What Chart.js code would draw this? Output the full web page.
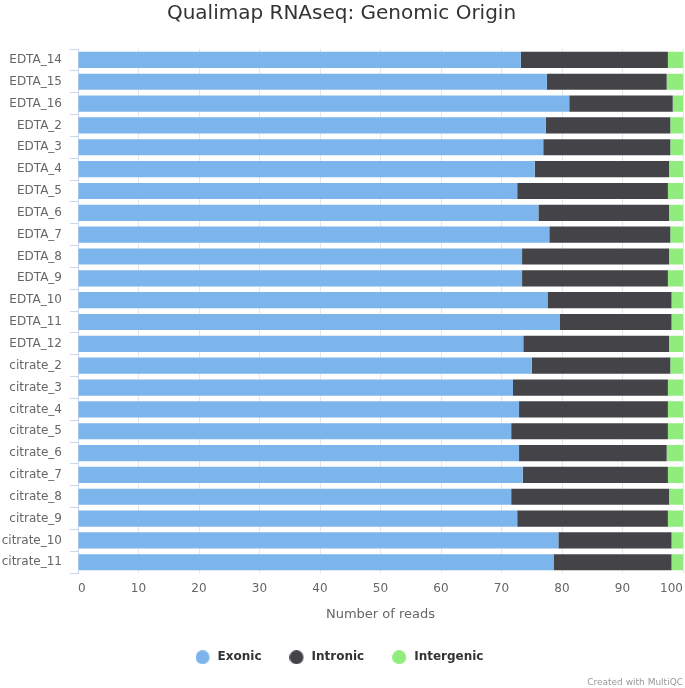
<!DOCTYPE html>
<html>
<head>
<meta charset="utf-8">
<script src="https://cdn.jsdelivr.net/npm/chart.js@4"></script>
<style>
  html, body { margin: 0; padding: 0; background: #fff; }
  #wrap { width: 685px; height: 688px; }
</style>
</head>
<body>
<div id="wrap"><canvas id="chart"></canvas></div>
<script>
const samples = ['EDTA_14', 'EDTA_15', 'EDTA_16', 'EDTA_2', 'EDTA_3', 'EDTA_4', 'EDTA_5', 'EDTA_6',
    'EDTA_7', 'EDTA_8', 'EDTA_9', 'EDTA_10', 'EDTA_11', 'EDTA_12',
    'citrate_2', 'citrate_3', 'citrate_4', 'citrate_5', 'citrate_6', 'citrate_7', 'citrate_8',
    'citrate_9', 'citrate_10', 'citrate_11'];

// percentages
const exonic = [73.2, 77.5, 81.2, 77.3, 76.9, 75.5, 72.6, 76.1, 77.9, 73.4, 73.4, 77.6, 79.6, 73.6,
    75.0, 71.9, 72.9, 71.6, 72.9, 73.5, 71.6, 72.6, 79.4, 78.6];
const intronic = [24.3, 19.8, 17.1, 20.6, 21.0, 22.2, 24.9, 21.6, 20.0, 24.3, 24.1, 20.5, 18.5, 24.1,
    22.9, 25.6, 24.6, 25.9, 24.4, 24.0, 26.1, 24.9, 18.7, 19.5];
const intergenic = [2.5, 2.7, 1.7, 2.1, 2.1, 2.3, 2.5, 2.3, 2.1, 2.3, 2.5, 1.9, 1.9, 2.3,
    2.1, 2.5, 2.5, 2.5, 2.7, 2.5, 2.3, 2.5, 1.9, 1.9];

const seriesNames = ['Exonic', 'Intronic', 'Intergenic'];
const seriesColors = ['#7cb5ec', '#434348', '#90ed7d'];
const xTicks = [0, 10, 20, 30, 40, 50, 60, 70, 80, 90, 100];

Chart.defaults.font.family = "'DejaVu Sans', sans-serif";

const values = [exonic, intronic, intergenic];

// legend marker: a circle sitting left in a wider image, so the text gets more room
function legendDot(color) {
    const c = document.createElement('canvas');
    c.width = 20;
    c.height = 14;
    const g = c.getContext('2d');
    g.fillStyle = color;
    g.beginPath();
    g.arc(7, 7, 7, 0, Math.PI * 2);
    g.fill();
    return c;
}
const dots = seriesColors.map(legendDot);

const config = {
    type: 'bar',
    data: {
        labels: samples,
        datasets: seriesNames.map((name, i) => ({
            label: name,
            data: values[i],
            backgroundColor: seriesColors[i],
            borderWidth: 0,
            barPercentage: 0.74,
            categoryPercentage: 1.0
        }))
    },
    options: {
        indexAxis: 'y',
        responsive: true,
        maintainAspectRatio: false,
        animation: false,
        layout: { padding: { left: 0, right: 2, top: 0, bottom: 0 } },
        plugins: {
            title: {
                display: true,
                text: 'Qualimap RNAseq: Genomic Origin',
                color: '#333333',
                font: { size: 20, weight: 'normal' },
                padding: { top: 2, bottom: 23 }
            },
            subtitle: {
                display: true,
                text: 'Created with MultiQC',
                position: 'bottom',
                align: 'end',
                color: '#999999',
                font: { size: 9 },
                padding: { top: 4, bottom: 0 }
            },
            legend: {
                position: 'bottom',
                onClick: function () {},
                labels: {
                    usePointStyle: true,
                    boxWidth: 12,
                    boxHeight: 12,
                    padding: 32,
                    color: '#333333',
                    font: { size: 12, weight: 'bold' },
                    generateLabels: chart => {
                        const items = Chart.defaults.plugins.legend.labels.generateLabels(chart);
                        items.forEach((it, i) => { it.pointStyle = dots[i]; });
                        return items;
                    }
                }
            },
            tooltip: { enabled: false }
        },
        scales: {
            x: {
                stacked: true,
                min: 0,
                max: 100,
                afterBuildTicks: s => { s.ticks = xTicks.map(v => ({ value: v })); },
                afterFit: s => { s.paddingRight = 0; s.paddingLeft = 0; },
                grid: { color: '#e6e6e6', drawTicks: false },
                border: { display: false },
                ticks: { color: '#666666', font: { size: 12 }, padding: 8, align: 'inner', maxRotation: 0 },
                title: {
                    display: true,
                    text: 'Number of reads',
                    color: '#666666',
                    font: { size: 13 },
                    padding: { top: 3, bottom: -3 }
                }
            },
            y: {
                stacked: true,
                afterFit: s => { s.width = 78; },
                grid: { drawOnChartArea: false, color: '#ccd6eb', tickLength: 8, offset: true },
                border: { display: true, color: '#ccd6eb' },
                ticks: { color: '#666666', font: { size: 12 }, padding: 8, autoSkip: false }
            }
        }
    }
};

const ctx = document.getElementById('chart').getContext('2d');
const myChart = new Chart(ctx, config);
</script>
</body>
</html>
